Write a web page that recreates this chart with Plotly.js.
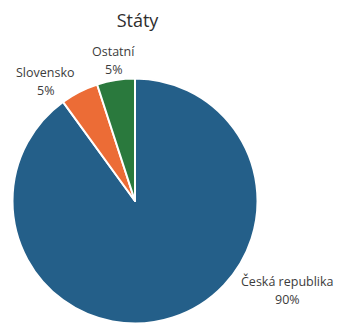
<!DOCTYPE html>
<html>
<head>
<meta charset="utf-8">
<script src="https://cdn.plot.ly/plotly-3.0.1.min.js"></script>
<style>html,body{margin:0;padding:0;background:#fff;}#chart{width:338px;height:324px;}</style>
</head>
<body>
<div id="chart"></div>
<script>
const categories = ["Česká republika", "Slovensko", "Ostatní"];
const values = [90, 5, 5];
const colors = ["#245f89", "#ec6c36", "#2a793d"];
// label anchor points (paper coords) for each category
const labelX = [287, 45, 113];
const labelY = [281, 72, 51];

const W = 338, H = 324;
const total = values.reduce((a, b) => a + b, 0);
const labelFont = {family: "Open Sans", size: 12.5, color: "#3c3c3c", weight: 500};
const annotations = [];
categories.forEach((c, i) => {
  const pct = Math.round(values[i] / total * 100) + "%";
  annotations.push({
    text: c, x: labelX[i] / W, y: 1 - labelY[i] / H, xref: "paper", yref: "paper",
    showarrow: false, xanchor: "center", yanchor: "middle", font: labelFont
  });
  annotations.push({
    text: pct, x: labelX[i] / W, y: 1 - (labelY[i] + 18) / H, xref: "paper", yref: "paper",
    showarrow: false, xanchor: "center", yanchor: "middle", font: labelFont
  });
});

const data = [{
  type: "pie",
  labels: categories,
  values: values,
  sort: false,
  direction: "clockwise",
  rotation: 0,
  textinfo: "none",
  hoverinfo: "label+percent",
  marker: {colors: colors, line: {color: "#ffffff", width: 2}},
  domain: {x: [12.5 / W, 257.5 / W], y: [0.5 / H, 245.5 / H]},
  showlegend: false
}];

const layout = {
  width: W, height: H,
  margin: {l: 0, r: 0, t: 0, b: 0},
  paper_bgcolor: "#ffffff",
  title: {
    text: "Státy",
    x: 137.5 / W, xanchor: "center", xref: "paper",
    y: 1 - 21 / H, yanchor: "middle", yref: "paper",
    font: {family: "Open Sans", size: 18, color: "#2e2e2e", weight: 500}
  },
  annotations: annotations,
  showlegend: false
};

Plotly.newPlot("chart", data, layout, {displayModeBar: false, staticPlot: true});
</script>
</body>
</html>
